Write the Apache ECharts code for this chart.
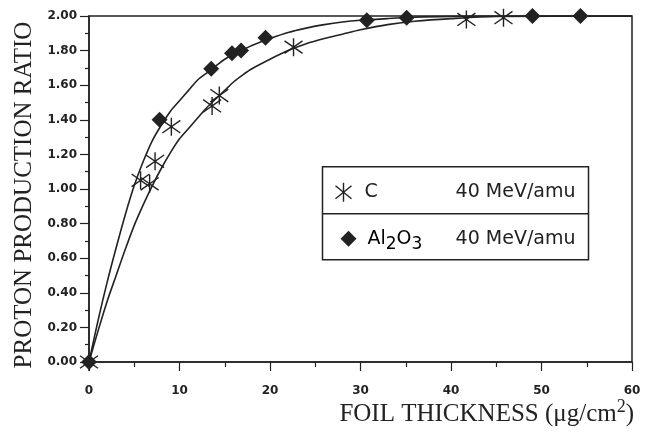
<!DOCTYPE html>
<html>
<head>
<meta charset="utf-8">
<script src="https://cdn.jsdelivr.net/npm/echarts@6/dist/echarts.min.js"></script>
<style>
  html, body { margin: 0; padding: 0; background: #fff; }
  #chart { width: 648px; height: 433px; }
</style>
</head>
<body>
<div id="chart"></div>
<script>
// measured points, C target
const carbonX = [0, 5.7, 6.7, 7.3, 9.1, 13.6, 14.4, 22.6, 41.7, 45.8];
const carbonY = [0, 1.05, 1.03, 1.16, 1.36, 1.48, 1.54, 1.82, 1.98, 1.99];
// measured points, Al2O3 target
const aluX = [0, 7.8, 13.5, 15.8, 16.8, 19.5, 30.7, 35.1, 49.0, 54.3];
const aluY = [0, 1.40, 1.695, 1.785, 1.80, 1.875, 1.975, 1.99, 2.0, 2.0];
// fitted curves
const fitX = [0, 1, 2, 3, 4, 5, 6, 7, 8, 9, 10, 11, 12, 13, 14, 15, 16, 17, 18, 20, 22, 24, 26, 28, 30, 33, 36, 40, 45, 60];
const carbonFitY = [0, 0.18, 0.35, 0.50, 0.65, 0.79, 0.91, 1.02, 1.12, 1.21, 1.29, 1.35, 1.41, 1.47, 1.52, 1.57, 1.62, 1.66, 1.695, 1.75, 1.80, 1.84, 1.87, 1.895, 1.92, 1.95, 1.97, 1.985, 1.997, 2.0];
const aluFitY = [0, 0.24, 0.46, 0.66, 0.85, 1.02, 1.16, 1.28, 1.37, 1.45, 1.51, 1.57, 1.63, 1.67, 1.71, 1.75, 1.78, 1.805, 1.83, 1.87, 1.905, 1.93, 1.95, 1.965, 1.975, 1.985, 1.993, 1.998, 2.0, 2.0];

const INK = "#222";
const asterisk = "path://M10,0L10,20M2,3L18,17M2,17L18,3";
const pairs = (xs, ys) => xs.map((x, i) => [x, ys[i]]);

const tickFont = {
	color: INK,
	fontFamily: "DejaVu Sans",
	fontWeight: "bold",
	fontSize: 12,
};

const option = {
	animation: false,
	backgroundColor: "#fff",
	grid: {
		left: 89,
		right: 16,
		top: 16,
		bottom: 71,
		show: true,
		borderColor: INK,
		borderWidth: 1.5,
	},
	xAxis: {
		type: "value",
		min: 0,
		max: 60,
		interval: 10,
		axisLine: { lineStyle: { color: INK, width: 1.5 } },
		axisTick: { length: 9, lineStyle: { color: INK, width: 1.2 } },
		minorTick: { show: true, splitNumber: 2, length: 5, lineStyle: { color: INK, width: 1.2 } },
		splitLine: { show: false },
		axisLabel: { margin: 23, ...tickFont },
	},
	yAxis: {
		type: "value",
		min: 0,
		max: 2,
		interval: 0.2,
		axisLine: { lineStyle: { color: INK, width: 1.5 } },
		axisTick: { length: 9, lineStyle: { color: INK, width: 1.2 } },
		minorTick: { show: true, splitNumber: 2, length: 4, lineStyle: { color: INK, width: 1.2 } },
		splitLine: { show: false },
		axisLabel: {
			margin: 12,
			formatter: (v) => v.toFixed(2),
			...tickFont,
		},
	},
	series: [
		{
			name: "C fit",
			type: "line",
			smooth: 0.3,
			showSymbol: false,
			lineStyle: { color: INK, width: 1.6 },
			data: pairs(fitX, carbonFitY),
			z: 2,
		},
		{
			name: "Al2O3 fit",
			type: "line",
			smooth: 0.3,
			showSymbol: false,
			lineStyle: { color: INK, width: 1.6 },
			data: pairs(fitX, aluFitY),
			z: 2,
		},
		{
			name: "C 40 MeV/amu",
			type: "scatter",
			symbol: asterisk,
			symbolSize: 18,
			clip: false,
			itemStyle: { color: "rgba(0,0,0,0)", borderColor: INK, borderWidth: 1.4, opacity: 1 },
			data: pairs(carbonX, carbonY),
			z: 3,
		},
		{
			name: "Al2O3 40 MeV/amu",
			type: "scatter",
			symbol: "diamond",
			symbolSize: 16,
			clip: false,
			itemStyle: { color: INK, opacity: 1 },
			data: pairs(aluX, aluY),
			z: 4,
		},
	],
	graphic: [
		{
			type: "text",
			x: 24,
			y: 195,
			rotation: Math.PI / 2,
			style: {
				text: "PROTON PRODUCTION RATIO",
				fill: INK,
				font: "25px Liberation Serif",
				textAlign: "center",
				textVerticalAlign: "middle",
			},
		},
		{
			type: "text",
			right: 14,
			top: 398,
			style: {
				text: "{t|FOIL THICKNESS (μg/cm}{sup|2}{t|)}",
				fill: INK,
				rich: {
					t: { fontFamily: "Liberation Serif", fontSize: 25, color: INK },
					sup: { fontFamily: "Liberation Serif", fontSize: 18, color: INK, padding: [0, 0, 14, 0] },
				},
			},
		},
		{
			type: "group",
			left: 320,
			top: 166,
			children: [
				{
					type: "rect",
					shape: { x: 0, y: 0, width: 266, height: 93 },
					style: { fill: "#fff", stroke: INK, lineWidth: 1.5 },
				},
				{
					type: "line",
					shape: { x1: 0, y1: 47, x2: 266, y2: 47 },
					style: { stroke: INK, lineWidth: 1.5 },
				},
				// asterisk marker
				{ type: "line", shape: { x1: 21, y1: 16, x2: 21, y2: 35 }, style: { stroke: INK, lineWidth: 1.4 } },
				{ type: "line", shape: { x1: 13, y1: 19, x2: 29, y2: 32 }, style: { stroke: INK, lineWidth: 1.4 } },
				{ type: "line", shape: { x1: 13, y1: 32, x2: 29, y2: 19 }, style: { stroke: INK, lineWidth: 1.4 } },
				{
					type: "text",
					style: { text: "C", x: 42, y: 25, fill: INK, font: "19px DejaVu Sans", textVerticalAlign: "middle" },
				},
				{
					type: "text",
					style: { text: "40 MeV/amu", x: 253, y: 25, fill: INK, font: "19px DejaVu Sans", textAlign: "right", textVerticalAlign: "middle" },
				},
				// diamond marker
				{
					type: "polygon",
					shape: { points: [[26, 64], [34, 72], [26, 80], [18, 72]] },
					style: { fill: INK },
				},
				{
					type: "text",
					style: {
						text: "{n|Al}{s|2}{n|O}{s|3}",
						x: 45,
						y: 72,
						textVerticalAlign: "middle",
						rich: {
							n: { fontFamily: "DejaVu Sans", fontSize: 19, color: INK },
							s: { fontFamily: "DejaVu Sans", fontSize: 17, color: INK, padding: [12, 0, 0, 0] },
						},
					},
				},
				{
					type: "text",
					style: { text: "40 MeV/amu", x: 253, y: 72, fill: INK, font: "19px DejaVu Sans", textAlign: "right", textVerticalAlign: "middle" },
				},
			],
		},
	],
};

const chart = echarts.init(document.getElementById("chart"), null, { renderer: "canvas" });
chart.setOption(option);
</script>
</body>
</html>
